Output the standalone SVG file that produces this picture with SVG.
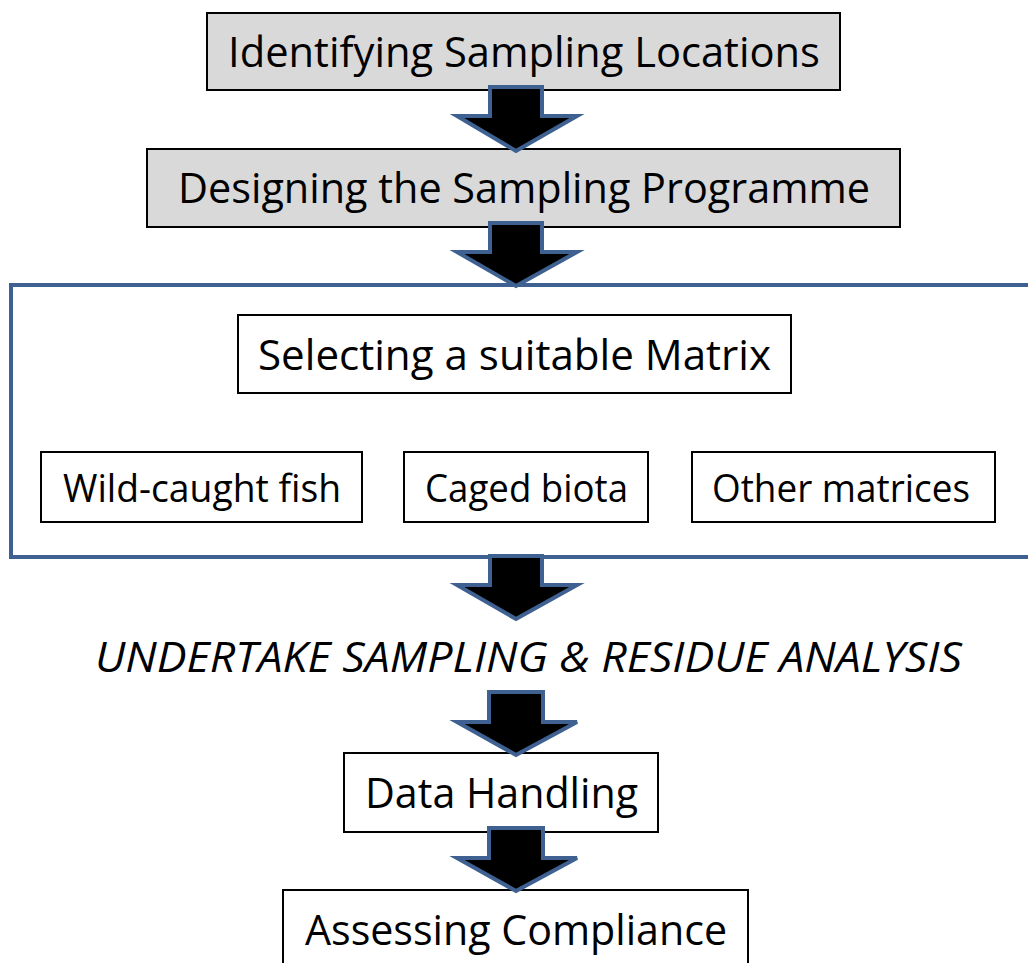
<svg xmlns="http://www.w3.org/2000/svg" width="1028" height="963" viewBox="0 0 1028 963">
<style>
.box{fill:#fff;stroke:#000;stroke-width:2}
.grey{fill:#D9D9D9}
.t{font-family:"Open Sans","Liberation Sans",sans-serif;fill:#000;text-anchor:middle}
.big{font-size:42px}
.sm{font-size:38px}
.arrow{fill:#000;stroke:#3E6192;stroke-width:4;stroke-linejoin:miter}
.frame{fill:none;stroke:#3E6192;stroke-width:4}
</style>
<rect width="1028" height="963" fill="#fff"/>
<g id="matrix-group">
<rect class="frame" x="11" y="285" width="1022" height="272"/>
</g>
<g id="node-identify">
<rect class="box grey" x="207" y="13" width="633" height="77"/>
<text class="t big" x="524" y="67" textLength="592" lengthAdjust="spacingAndGlyphs">Identifying Sampling Locations</text>
</g>
<g id="node-design">
<rect class="box grey" x="147" y="149" width="753" height="78"/>
<text class="t big" x="524" y="203" textLength="692" lengthAdjust="spacingAndGlyphs">Designing the Sampling Programme</text>
</g>
<g id="node-select">
<rect class="box" x="238" y="315" width="553" height="78"/>
<text class="t big" x="514.5" y="370" textLength="513" lengthAdjust="spacingAndGlyphs">Selecting a suitable Matrix</text>
</g>
<g id="node-wild">
<rect class="box" x="41" y="452" width="321" height="70"/>
<text class="t sm" x="202" y="502" textLength="278" lengthAdjust="spacingAndGlyphs">Wild-caught fish</text>
</g>
<g id="node-caged">
<rect class="box" x="404" y="452" width="244" height="70"/>
<text class="t sm" x="526.5" y="502" textLength="203" lengthAdjust="spacingAndGlyphs">Caged biota</text>
</g>
<g id="node-other">
<rect class="box" x="692" y="452" width="303" height="70"/>
<text class="t sm" x="841" y="502" textLength="258" lengthAdjust="spacingAndGlyphs">Other matrices</text>
</g>
<g id="node-undertake">
<text class="t big" x="528.5" y="672" font-style="italic" textLength="867" lengthAdjust="spacingAndGlyphs">UNDERTAKE SAMPLING &amp; RESIDUE ANALYSIS</text>
</g>
<g id="node-data">
<rect class="box" x="344" y="753" width="314" height="79"/>
<text class="t big" x="501.5" y="808" textLength="273" lengthAdjust="spacingAndGlyphs">Data Handling</text>
</g>
<g id="node-assess">
<rect class="box" x="283" y="890" width="465" height="80"/>
<text class="t big" x="516" y="945" textLength="422" lengthAdjust="spacingAndGlyphs">Assessing Compliance</text>
</g>
<g id="connectors">
<polygon class="arrow" points="490,87 542,87 542,116 577,116 516,151 457,116 490,116"/>
<polygon class="arrow" points="490,223 542,223 542,252 577,252 516,286 457,252 490,252"/>
<polygon class="arrow" points="490,556 542,556 542,585 577,585 516,619 457,585 490,585"/>
<polygon class="arrow" points="489,692 543,692 543,722 577,722 516,755 457,722 489,722"/>
<polygon class="arrow" points="489,828 543,828 543,858 577,858 516,891 457,858 489,858"/>
</g>
</svg>
